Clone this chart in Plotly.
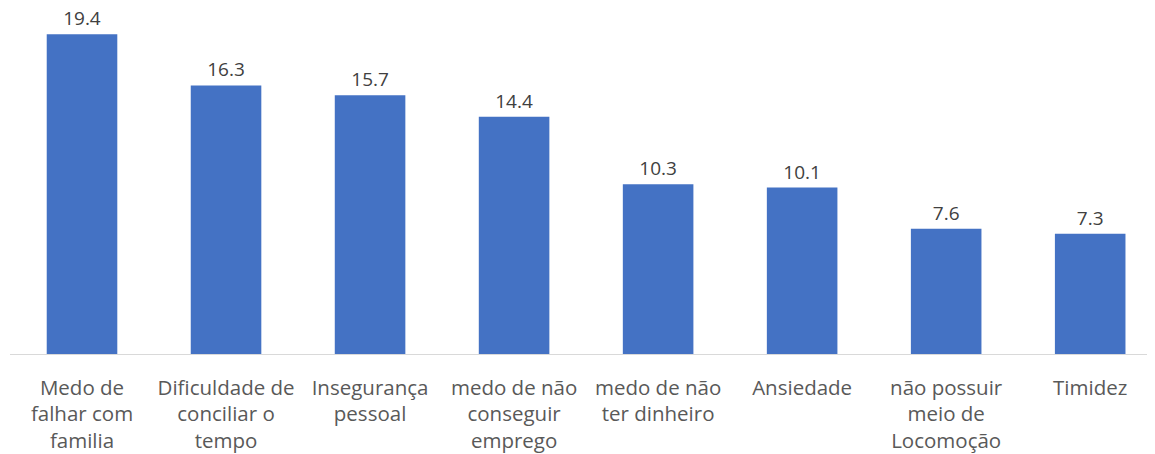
import plotly.graph_objects as go

categories = [
    "Medo de<br>falhar com<br>familia",
    "Dificuldade de<br>conciliar o<br>tempo",
    "Insegurança<br>pessoal",
    "medo de não<br>conseguir<br>emprego",
    "medo de não<br>ter dinheiro",
    "Ansiedade",
    "não possuir<br>meio de<br>Locomoção",
    "Timidez",
]
values = [19.4, 16.3, 15.7, 14.4, 10.3, 10.1, 7.6, 7.3]
value_labels = ["19.4", "16.3", "15.7", "14.4", "10.3", "10.1", "7.6", "7.3"]

fig = go.Figure(
    go.Bar(
        x=list(range(len(categories))),
        y=values,
        text=value_labels,
        textposition="outside",
        textfont=dict(family="Open Sans", size=19, color="#404040"),
        marker=dict(color="#4472C4", line=dict(width=0)),
        width=0.49,
        cliponaxis=False,
    )
)

fig.update_layout(
    width=1147,
    height=446,
    margin=dict(l=2, r=0, t=0, b=100),
    paper_bgcolor="white",
    plot_bgcolor="white",
    showlegend=False,
    font=dict(family="Open Sans", size=20, color="#595959"),
)
fig.update_xaxes(
    range=[-0.5, 7.45],
    tickmode="array",
    tickvals=list(range(len(categories))),
    ticktext=categories,
    showline=True,
    linecolor="#D9D9D9",
    linewidth=1,
    ticks="",
    ticklabelstandoff=15,
    automargin=False,
    tickfont=dict(family="Open Sans", size=20.5, color="#595959"),
    showgrid=False,
    zeroline=False,
)
fig.update_yaxes(
    range=[0, 21.0],
    visible=False,
    showgrid=False,
)

fig.write_html("out.html")
